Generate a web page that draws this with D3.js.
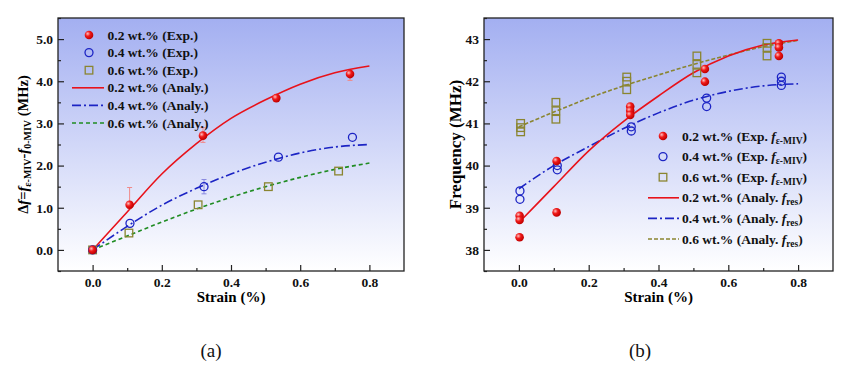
<!DOCTYPE html>
<html>
<head>
<meta charset="utf-8">
<script src="https://cdn.jsdelivr.net/npm/d3@7"></script>
<style>
  body { margin: 0; background: #fff; }
  svg { display: block; font-family: "Liberation Serif", "Times New Roman", serif; }
</style>
</head>
<body>
<svg width="859" height="376"></svg>
<script>
// ---- panel (a): frequency shift vs strain ----
var aExp02 = [[0, 0], [0.107, 1.07], [0.319, 2.71], [0.531, 3.6], [0.744, 4.17]];
var aErr02 = [[0.107, 0.98, 1.48], [0.319, 2.55, 2.9], [0.744, 4.02, 4.25]];
var aExp04 = [[0, 0], [0.108, 0.63], [0.322, 1.5], [0.537, 2.2], [0.751, 2.67]];
var aErr04 = [[0.322, 1.33, 1.67]];
var aExp06 = [[0, 0], [0.105, 0.4], [0.305, 1.07], [0.508, 1.5], [0.711, 1.87]];
var aFit02 = [[0, 0], [0.1, 0.9], [0.2, 1.8], [0.3, 2.52], [0.4, 3.12], [0.5, 3.56], [0.6, 3.93], [0.7, 4.2], [0.8, 4.36]];
var aFit04 = [[0, 0], [0.1, 0.56], [0.2, 1.06], [0.3, 1.46], [0.4, 1.8], [0.5, 2.08], [0.6, 2.3], [0.7, 2.44], [0.8, 2.5]];
var aFit06 = [[0, 0], [0.1, 0.33], [0.2, 0.66], [0.3, 0.97], [0.4, 1.25], [0.5, 1.5], [0.6, 1.72], [0.7, 1.91], [0.8, 2.06]];
var aYTicks = [0, 1, 2, 3, 4, 5];

// ---- panel (b): resonance frequency vs strain ----
var bExp02 = [[0.002, 38.81], [0.002, 38.71], [0.002, 38.3], [0.108, 40.11], [0.108, 38.89],
  [0.319, 41.4], [0.319, 41.3], [0.319, 41.2], [0.533, 42.29], [0.533, 41.99],
  [0.745, 42.9], [0.745, 42.8], [0.745, 42.6]];
var bExp04 = [[0.003, 39.4], [0.003, 39.2], [0.11, 40.0], [0.11, 39.9], [0.322, 40.92], [0.322, 40.82],
  [0.538, 41.6], [0.538, 41.4], [0.752, 42.1], [0.752, 42.0], [0.752, 41.9]];
var bExp06 = [[0.005, 41.0], [0.005, 40.9], [0.005, 40.8], [0.106, 41.5], [0.106, 41.3], [0.106, 41.1],
  [0.309, 42.1], [0.309, 42.0], [0.309, 41.8], [0.51, 42.6], [0.51, 42.4], [0.51, 42.2],
  [0.711, 42.9], [0.711, 42.8], [0.711, 42.6]];
var bFit02 = [[0, 38.65], [0.1, 39.5], [0.2, 40.35], [0.3, 41.05], [0.4, 41.65], [0.5, 42.2], [0.6, 42.6], [0.7, 42.86], [0.8, 42.98]];
var bFit04 = [[0, 39.45], [0.1, 40.0], [0.2, 40.45], [0.3, 40.88], [0.4, 41.25], [0.5, 41.55], [0.6, 41.76], [0.7, 41.89], [0.8, 41.94]];
var bFit06 = [[0, 40.92], [0.1, 41.27], [0.2, 41.6], [0.3, 41.89], [0.4, 42.15], [0.5, 42.4], [0.6, 42.62], [0.7, 42.82], [0.8, 42.97]];
var bYTicks = [38, 39, 40, 41, 42, 43];

var xTicks = [0, 0.2, 0.4, 0.6, 0.8];

var RED = "#e8121a", BLUE = "#1c24c4", GREEN = "#1f8c22", OLIVE = "#8a8530";

var svg = d3.select("svg");
var defs = svg.append("defs");

var bg = defs.append("linearGradient").attr("id", "bg")
  .attr("x1", 0).attr("y1", 0).attr("x2", 0).attr("y2", 1);
bg.append("stop").attr("offset", "0%").attr("stop-color", "#a3aff1");
bg.append("stop").attr("offset", "100%").attr("stop-color", "#ffffff");

var ball = defs.append("radialGradient").attr("id", "ball")
  .attr("cx", "35%").attr("cy", "35%").attr("r", "65%");
ball.append("stop").attr("offset", "0%").attr("stop-color", "#ffc0c0");
ball.append("stop").attr("offset", "45%").attr("stop-color", "#f01a1a");
ball.append("stop").attr("offset", "100%").attr("stop-color", "#c00000");

function drawMarker(g, kind, x, y) {
  if (kind == "ball") {
    g.append("circle").attr("cx", x).attr("cy", y).attr("r", 4.3).attr("fill", "url(#ball)");
  } else if (kind == "ring") {
    g.append("circle").attr("cx", x).attr("cy", y).attr("r", 4).attr("fill", "none")
      .attr("stroke", BLUE).attr("stroke-width", 1.3);
  } else {
    g.append("rect").attr("x", x - 3.8).attr("y", y - 3.8).attr("width", 7.6).attr("height", 7.6)
      .attr("fill", "none").attr("stroke", OLIVE).attr("stroke-width", 1.3);
  }
}

function drawPanel(p) {
  var x = d3.scaleLinear().domain([-0.1, 0.9]).range([p.left, p.right]);
  var y = d3.scaleLinear().domain(p.yDomain).range([p.bottom, p.top]);
  var g = svg.append("g");

  g.append("rect").attr("x", p.left).attr("y", p.top)
    .attr("width", p.right - p.left).attr("height", p.bottom - p.top)
    .attr("fill", "url(#bg)");

  var line = d3.line().x(function(d) { return x(d[0]); }).y(function(d) { return y(d[1]); })
    .curve(d3.curveMonotoneX);

  p.fits.forEach(function(f) {
    g.append("path").datum(f.data).attr("d", line).attr("fill", "none")
      .attr("stroke", f.color).attr("stroke-width", 1.6)
      .attr("stroke-dasharray", f.dash);
  });

  (p.errs || []).forEach(function(e) {
    e.data.forEach(function(d) {
      g.append("line").attr("x1", x(d[0])).attr("x2", x(d[0])).attr("y1", y(d[1])).attr("y2", y(d[2]))
        .attr("stroke", e.color).attr("stroke-width", 1);
      [d[1], d[2]].forEach(function(v) {
        g.append("line").attr("x1", x(d[0]) - 2.5).attr("x2", x(d[0]) + 2.5).attr("y1", y(v)).attr("y2", y(v))
          .attr("stroke", e.color).attr("stroke-width", 1);
      });
    });
  });

  p.exps.forEach(function(s) {
    s.data.forEach(function(d) { drawMarker(g, s.kind, x(d[0]), y(d[1])); });
  });

  // frame
  g.append("rect").attr("x", p.left).attr("y", p.top)
    .attr("width", p.right - p.left).attr("height", p.bottom - p.top)
    .attr("fill", "none").attr("stroke", "#222").attr("stroke-width", 1.3);

  // axes with inward ticks
  var xAxis = d3.axisBottom(x).tickValues(xTicks).tickFormat(d3.format(".1f")).tickSizeInner(-6).tickSizeOuter(0).tickPadding(6);
  var gx = g.append("g").attr("transform", "translate(0," + p.bottom + ")").call(xAxis);
  var xMinor = d3.axisBottom(x).tickValues([0.1, 0.3, 0.5, 0.7]).tickFormat("").tickSizeInner(-3).tickSizeOuter(0);
  var gxm = g.append("g").attr("transform", "translate(0," + p.bottom + ")").call(xMinor);

  var yAxis = d3.axisLeft(y).tickValues(p.yTicks).tickFormat(p.yFormat).tickSizeInner(-6).tickSizeOuter(0).tickPadding(5);
  var gy = g.append("g").attr("transform", "translate(" + p.left + ",0)").call(yAxis);
  var yMinor = d3.axisLeft(y).tickValues(p.yTicks.map(function(v) { return v + p.yStep / 2; }).concat([p.yTicks[0] - p.yStep / 2]))
    .tickFormat("").tickSizeInner(-3).tickSizeOuter(0);
  var gym = g.append("g").attr("transform", "translate(" + p.left + ",0)").call(yMinor);

  [gx, gxm, gy, gym].forEach(function(a) {
    a.select(".domain").remove();
    a.selectAll("line").attr("stroke", "#222").attr("stroke-width", 1.2);
    a.selectAll("text").attr("font-family", "Liberation Serif").attr("font-weight", "bold")
      .attr("font-size", 13.5).attr("fill", "#111");
  });

  g.append("text").attr("x", (p.left + p.right) / 2).attr("y", p.bottom + 31)
    .attr("text-anchor", "middle").attr("font-weight", "bold").attr("font-size", 15)
    .text("Strain (%)");

  var yt = g.append("text").attr("transform", "translate(" + p.yTitleX + "," + (p.top + p.bottom) / 2 + ") rotate(-90)")
    .attr("text-anchor", "middle").attr("font-weight", "bold").attr("font-size", p.yTitleSize);
  p.yTitle(yt);

  // legend
  var lg = g.append("g");
  p.legend.forEach(function(it, i) {
    var ly = p.legY + i * p.legStep;
    if (it.kind) {
      drawMarker(lg, it.kind, p.legMarkX, ly);
    } else {
      lg.append("line").attr("x1", p.legLine[0]).attr("x2", p.legLine[1]).attr("y1", ly).attr("y2", ly)
        .attr("stroke", it.color).attr("stroke-width", 1.6).attr("stroke-dasharray", it.dash);
    }
    var t = lg.append("text").attr("x", p.legTextX).attr("y", ly + 4.5)
      .attr("font-weight", "bold").attr("font-size", 13.5).attr("fill", "#111");
    it.label(t);
  });

  g.append("text").attr("x", p.tagX).attr("y", 357).attr("text-anchor", "middle")
    .attr("font-size", 19).attr("fill", "#111").text(p.tag);
}

function plain(s) { return function(t) { t.text(s); }; }
function subLabel(pre, sub, post) {
  return function(t) {
    t.append("tspan").text(pre);
    t.append("tspan").attr("font-style", "italic").text("f");
    t.append("tspan").attr("font-size", 9.5).attr("dy", 3).text(sub);
    t.append("tspan").attr("dy", -3).text(post);
  };
}

drawPanel({
  left: 58, right: 404, top: 18, bottom: 271,
  yDomain: [-0.5, 5.5], yTicks: aYTicks, yStep: 1, yFormat: d3.format(".1f"),
  yTitleX: 28, yTitleSize: 14.5,
  yTitle: function(t) {
    t.append("tspan").text("\u0394");
    t.append("tspan").attr("font-style", "italic").text("f");
    t.append("tspan").text("=");
    t.append("tspan").attr("font-style", "italic").text("f");
    t.append("tspan").attr("font-size", 10).attr("dy", 3).text("\u03b5-MIV");
    t.append("tspan").attr("dy", -3).text("-");
    t.append("tspan").attr("font-style", "italic").text("f");
    t.append("tspan").attr("font-size", 10).attr("dy", 3).text("0-MIV");
    t.append("tspan").attr("dy", -3).text(" (MHz)");
  },
  fits: [
    { data: aFit02, color: RED, dash: null },
    { data: aFit04, color: BLUE, dash: "9,3,2,3" },
    { data: aFit06, color: GREEN, dash: "4,3" }
  ],
  errs: [
    { data: aErr02, color: "#f08a8a" },
    { data: aErr04, color: "#8a8ae0" }
  ],
  exps: [
    { data: aExp06, kind: "square" },
    { data: aExp04, kind: "ring" },
    { data: aExp02, kind: "ball" }
  ],
  legY: 35, legStep: 17.6, legMarkX: 89, legLine: [72, 104], legTextX: 107.5,
  legend: [
    { kind: "ball", label: plain("0.2 wt.% (Exp.)") },
    { kind: "ring", label: plain("0.4 wt.% (Exp.)") },
    { kind: "square", label: plain("0.6 wt.% (Exp.)") },
    { color: RED, dash: null, label: plain("0.2 wt.% (Analy.)") },
    { color: BLUE, dash: "9,3,2,3", label: plain("0.4 wt.% (Analy.)") },
    { color: GREEN, dash: "4,3", label: plain("0.6 wt.% (Analy.)") }
  ],
  tagX: 211, tag: "(a)"
});

drawPanel({
  left: 484, right: 833, top: 18, bottom: 271,
  yDomain: [37.5, 43.5], yTicks: bYTicks, yStep: 1, yFormat: d3.format("d"),
  yTitleX: 461, yTitleSize: 17,
  yTitle: function(t) { t.text("Frequency (MHz)"); },
  fits: [
    { data: bFit06, color: OLIVE, dash: "4,2" },
    { data: bFit04, color: BLUE, dash: "9,3,2,3" },
    { data: bFit02, color: RED, dash: null }
  ],
  exps: [
    { data: bExp06, kind: "square" },
    { data: bExp04, kind: "ring" },
    { data: bExp02, kind: "ball" }
  ],
  legY: 136, legStep: 20.6, legMarkX: 663, legLine: [648, 679], legTextX: 682,
  legend: [
    { kind: "ball", label: subLabel("0.2 wt.% (Exp. ", "\u03b5-MIV", ")") },
    { kind: "ring", label: subLabel("0.4 wt.% (Exp. ", "\u03b5-MIV", ")") },
    { kind: "square", label: subLabel("0.6 wt.% (Exp. ", "\u03b5-MIV", ")") },
    { color: RED, dash: null, label: subLabel("0.2 wt.% (Analy. ", "res", ")") },
    { color: BLUE, dash: "9,3,2,3", label: subLabel("0.4 wt.% (Analy. ", "res", ")") },
    { color: OLIVE, dash: "4,2", label: subLabel("0.6 wt.% (Analy. ", "res", ")") }
  ],
  tagX: 640, tag: "(b)"
});
</script>
</body>
</html>
